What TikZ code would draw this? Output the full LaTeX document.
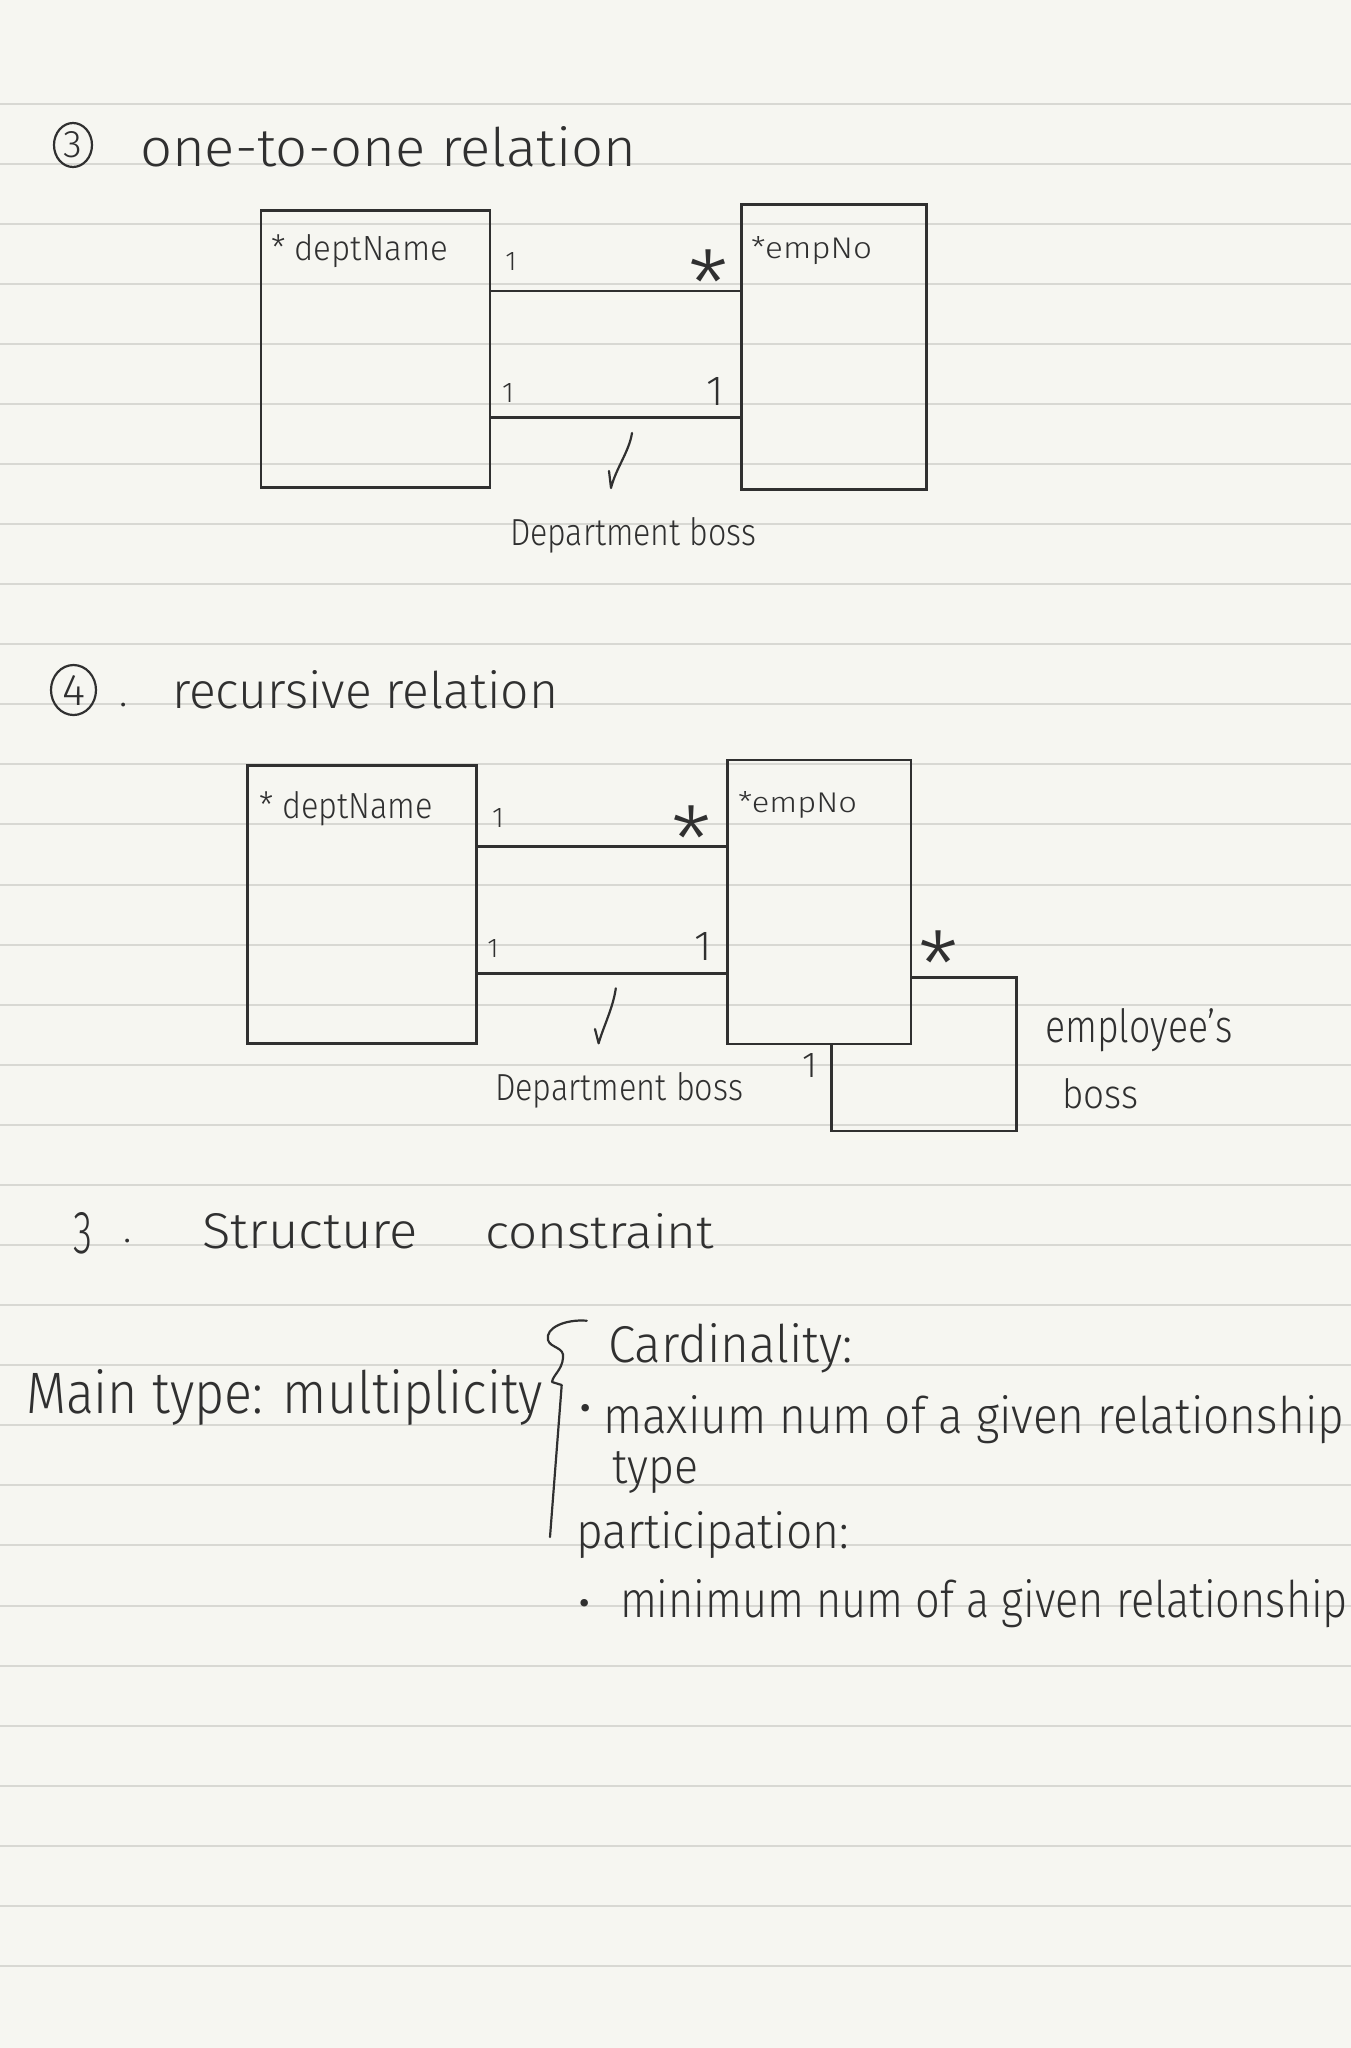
\documentclass[tikz,border=0pt]{standalone}
\usepackage{fontspec}
\IfFontExistsTF{Fira Sans Light}{\setmainfont{Fira Sans Light}}{\setmainfont{Liberation Sans}}
\usepackage{graphicx}
\usetikzlibrary{shapes.geometric}
\definecolor{papercol}{HTML}{F6F6F1}
\definecolor{rulecol}{HTML}{D8D8D3}
\definecolor{ink}{HTML}{303030}
\newcommand{\hw}[3]{\resizebox{#1pt}{#2pt}{#3}}
\newcommand{\hh}[2]{\resizebox{!}{#1pt}{#2}}
\newcommand{\mstar}{{\fontsize{92}{92}\selectfont\raisebox{-0.565em}[0.16em][0.16em]{*}}}
\newcommand{\mbul}{{\fontsize{50}{50}\selectfont\raisebox{-0.36em}[0.13em][0.13em]{•}}}
\begin{document}
\begin{tikzpicture}[x=1pt,y=-1pt,
  ent/.style={rectangle, draw=ink, line width=2.6pt, inner sep=0pt, outer sep=0pt},
  txt/.style={anchor=base west, inner sep=0pt, outer sep=0pt, text=ink},
  lab/.style={anchor=base, inner sep=0pt, outer sep=0pt, text=ink},
  mul/.style={anchor=center, inner sep=0pt, outer sep=0pt, text=ink},
  con/.style={draw=ink, line width=2.6pt},
  pen/.style={draw=ink, line width=2.2pt, line cap=round, line join=round},
  circnum/.style={ellipse, draw=ink, line width=2.2pt, inner sep=0pt, text=ink},
  ruled/.style={draw=rulecol, line width=2pt}]
\fill[papercol] (0,0) rectangle (1351,2048);
\useasboundingbox (0,0) rectangle (1351,2048);
\clip (0,0) rectangle (1351,2048);
\foreach \k in {0,...,31} \draw[ruled] (0,{103.5+60.08*\k}) -- (1351,{103.5+60.08*\k});

% ---- title 1
\node[circnum, minimum width=38, minimum height=44] (c3) at (73,145) {\hh{26}{3}};
\node[txt] (t1) at (140,166) {\hw{496}{40}{one-to-one relation}};

% ---- diagram 1
\node[ent, minimum width=229, minimum height=277] (d1) at (375.5,349.2) {};
\node[ent, minimum width=185, minimum height=285] (e1) at (833.8,346.7) {};
\node[txt] (d1t) at (271,260) {\hw{177}{26}{* deptName}};
\node[txt] (e1t) at (751,258) {\hw{121}{22}{*empNo}};
\draw[con] (d1.east |- 0,291) -- (e1.west |- 0,291);
\draw[con] (d1.east |- 0,417.7) -- (e1.west |- 0,417.7);
\node[lab] (m1a) at (511,270) {\hh{18}{1}};
\node[mul] (m1b) at (709,266) {\mstar};
\node[lab] (m1c) at (508,402) {\hh{19}{1}};
\node[lab] (m1d) at (715,405) {\hh{28}{1}};
\draw[pen] (609,471) -- (611,488) .. controls (616,468) and (629,452) .. (632,433);
\node[txt] (b1) at (510,545) {\hw{246}{28}{Department boss}};

% ---- title 2
\node[circnum, minimum width=45, minimum height=50] (c4) at (73.5,690) {\hh{30}{4}};
\node[lab] (p2) at (124,706) {\fontsize{40}{40}\selectfont .};
\node[txt] (t2) at (172,708) {\hw{386}{38}{recursive relation}};

% ---- diagram 2
\node[ent, minimum width=229, minimum height=278] (d2) at (361.7,904.3) {};
\node[ent, minimum width=183.7, minimum height=284] (e2) at (819.25,902) {};
\node[txt] (d2t) at (259,818) {\hw{174}{27}{* deptName}};
\node[txt] (e2t) at (738,812) {\hw{119}{21}{*empNo}};
\draw[con] (d2.east |- 0,846.7) -- (e2.west |- 0,846.7);
\draw[con] (d2.east |- 0,973.3) -- (e2.west |- 0,973.3);
\draw[con] (e2.east |- 0,977.3) -| (1016.4,1131) -| (e2.south -| 831.4,0);
\node[lab] (m2a) at (498,827) {\hh{19}{1}};
\node[mul] (m2b) at (692,822) {\mstar};
\node[lab] (m2c) at (493,957) {\hh{18}{1}};
\node[lab] (m2d) at (703,960) {\hh{28}{1}};
\node[mul] (m2e) at (939,947) {\mstar};
\node[lab] (m2f) at (810,1077) {\hh{24}{1}};
\draw[pen] (595,1029) -- (598.6,1043.3) .. controls (604,1025) and (613,1008) .. (615.8,988.3);
\node[txt] (b2) at (495,1100) {\hw{248}{28}{Department boss}};
\node[txt] (eb1) at (1045,1042) {\hw{188}{34}{employee’s}};
\node[txt] (eb2) at (1062,1108) {\hw{76}{30}{boss}};

% ---- title 3
\node[lab] (n3) at (83,1253) {\hw{19}{41}{3}};
\node[lab] (p3) at (128,1242) {\fontsize{40}{40}\selectfont .};
\node[txt] (t3a) at (202,1248) {\hw{216}{35}{Structure}};
\node[txt] (t3b) at (485,1248) {\hw{229}{35}{constraint}};

% ---- multiplicity notes
\node[txt] (mt) at (26,1413) {\hw{517}{44}{Main type: multiplicity}};
\draw[pen] (586.7,1320.7) .. controls (565,1319) and (545,1328) .. (548,1340)
  .. controls (550,1348) and (565,1347) .. (563,1358)
  .. controls (562,1370) and (553,1375) .. (552,1382) -- (561.7,1385) -- (550,1537);
\node[txt] (ca) at (608,1362) {\hw{245}{39}{Cardinality:}};
\node[mul] (bu1) at (586,1407) {\mbul};
\node[txt] (mx) at (603,1433) {\hw{741}{38}{maxium num of a given relationship}};
\node[txt] (ty) at (612,1483) {\hw{86}{32}{type}};
\node[txt] (pa) at (576,1548) {\hw{273}{37}{participation:}};
\node[mul] (bu2) at (585,1602) {\mbul};
\node[txt] (mn) at (620,1617) {\hw{728}{38}{minimum num of a given relationship}};
\end{tikzpicture}
\end{document}
